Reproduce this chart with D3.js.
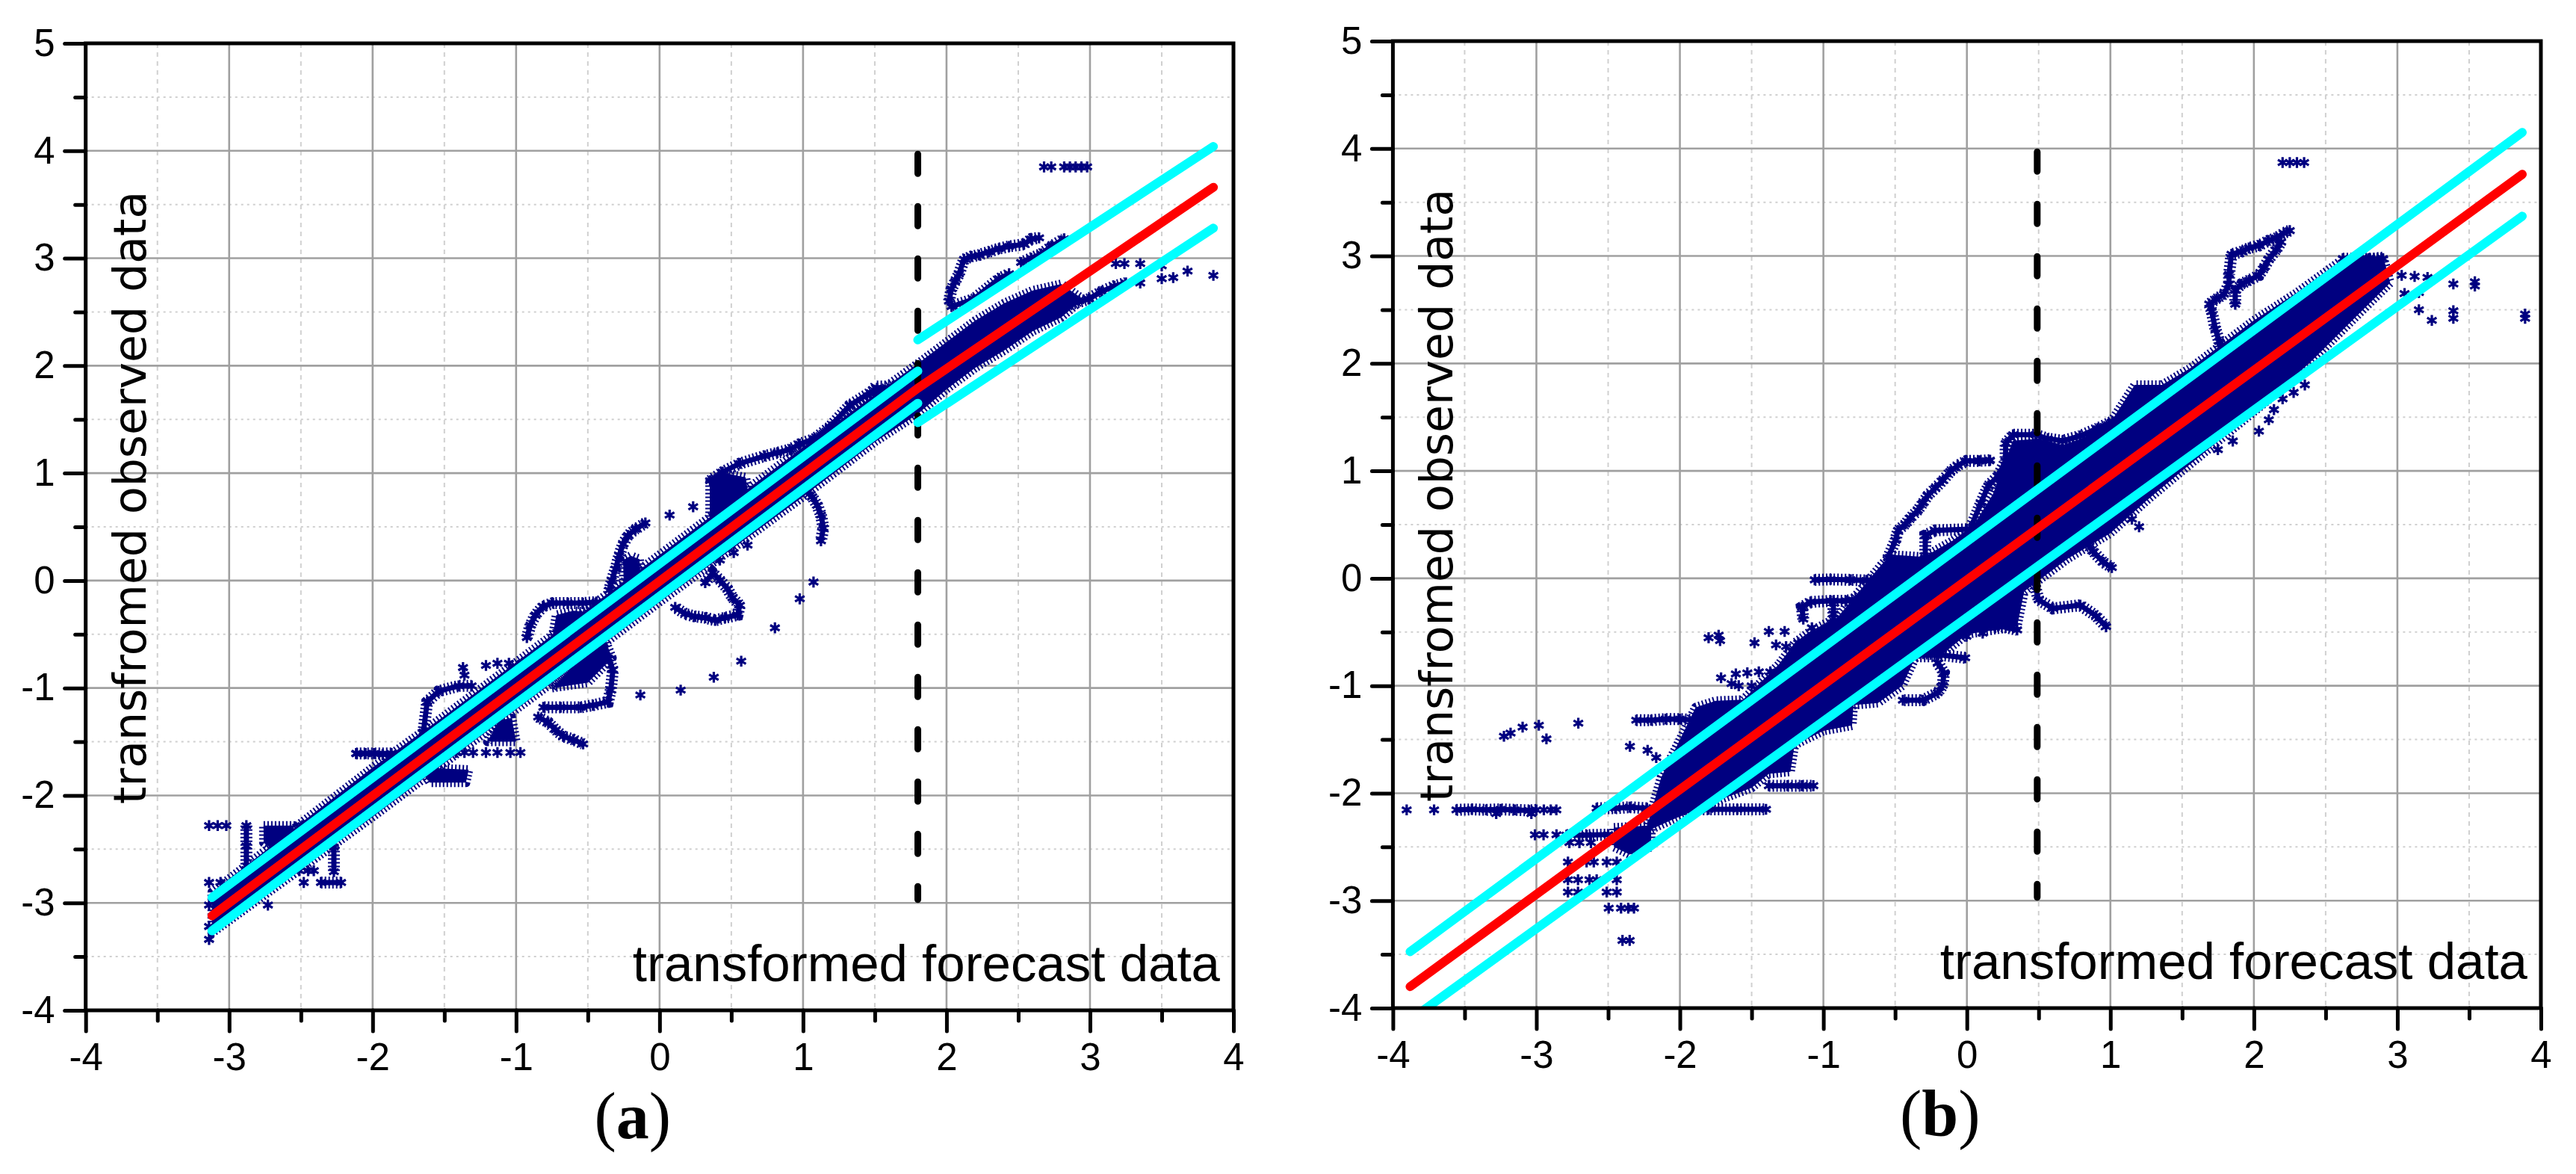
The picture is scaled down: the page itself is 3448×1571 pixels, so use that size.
<!DOCTYPE html>
<html>
<head>
<meta charset="utf-8">
<script src="https://cdn.jsdelivr.net/npm/d3@7"></script>
<style>
  html, body { margin: 0; padding: 0; background: #fff; }
  svg { display: block; }
</style>
</head>
<body>
<svg id="chart" width="3448" height="1571"></svg>
<script>
// axis ticks (same for both panels)
const xTicks = [-4, -3, -2, -1, 0, 1, 2, 3, 4];
const yTicks = [-4, -3, -2, -1, 0, 1, 2, 3, 4, 5];
const xMinor = [-3.5, -2.5, -1.5, -0.5, 0.5, 1.5, 2.5, 3.5];
const yMinor = [-3.5, -2.5, -1.5, -0.5, 0.5, 1.5, 2.5, 3.5, 4.5];

// ---------- panel (a) ----------
const splitA = 1.8;
const redA = [[-3.12, -3.12], [1.8, 1.79], [3.86, 3.66]];
const cyanA = [
  [[-3.12, -2.95], [1.8, 1.95]],
  [[1.8, 2.24], [3.86, 4.04]],
  [[-3.12, -3.26], [1.8, 1.65]],
  [[1.8, 1.47], [3.86, 3.28]]
];
// dense cloud outline
const coreA = [
  [-3.12, -2.90], [-2.6, -2.36], [-2.0, -1.74], [-1.5, -1.26], [-1.0, -0.76], [-0.5, -0.26],
  [0.0, 0.24], [0.5, 0.74], [1.0, 1.24], [1.5, 1.73], [1.8, 2.02], [2.0, 2.22], [2.2, 2.42],
  [2.4, 2.58], [2.6, 2.70], [2.8, 2.76], [2.95, 2.62],
  [2.8, 2.45], [2.6, 2.32], [2.4, 2.14], [2.2, 1.98], [2.0, 1.78], [1.8, 1.55], [1.5, 1.29],
  [1.0, 0.78], [0.5, 0.29], [0.0, -0.2], [-0.5, -0.7], [-1.0, -1.2], [-1.5, -1.7], [-2.0, -2.2],
  [-2.6, -2.78], [-3.12, -3.28]
];
const blobsA = [
  [[-2.76, -2.28], [-2.55, -2.28], [-2.55, -2.45], [-2.68, -2.52], [-2.76, -2.44]],
  [[-1.66, -1.74], [-1.33, -1.76], [-1.35, -1.88], [-1.6, -1.88]],
  [[-1.2, -1.5], [-1.0, -1.5], [-1.03, -1.28], [-1.12, -1.3]],
  [[0.35, 0.92], [0.35, 0.58], [0.45, 0.62], [0.62, 0.80], [0.6, 0.96], [0.45, 1.0]],
  [[-0.255, 0.19], [-0.2, 0.23], [-0.14, 0.2], [-0.13, 0.0], [-0.25, -0.02]],
  [[-0.75, -0.55], [-0.72, -0.32], [-0.6, -0.28], [-0.45, -0.30], [-0.42, -0.45]],
  [[-0.75, -1.0], [-0.5, -0.95], [-0.33, -0.72], [-0.38, -0.55], [-0.55, -0.72]],
  [[1.45, 1.72], [1.5, 1.82], [1.62, 1.82], [1.65, 1.75]]
];
// chains of closely packed points
const strandsA = [
  [[-1.646, -1.41], [-1.62, -1.13], [-1.54, -1.03], [-1.40, -0.98], [-1.31, -0.98]],
  [[0.352, 0.93], [0.439, 1.01], [0.561, 1.09], [0.734, 1.16], [0.821, 1.19], [0.908, 1.22], [0.977, 1.27], [1.08, 1.32], [1.186, 1.43], [1.325, 1.63], [1.516, 1.79]],
  [[-0.099, 0.536], [-0.168, 0.478], [-0.22, 0.42], [-0.255, 0.339], [-0.281, 0.234], [-0.307, 0.107], [-0.333, 0.002], [-0.351, -0.09]],
  [[-0.925, -0.53], [-0.9, -0.415], [-0.865, -0.32], [-0.813, -0.24], [-0.743, -0.21], [-0.639, -0.21], [-0.535, -0.21], [-0.44, -0.20]],
  [[-0.36, -0.72], [-0.325, -0.83], [-0.34, -1.02], [-0.36, -1.13], [-0.465, -1.16], [-0.55, -1.18], [-0.69, -1.18], [-0.81, -1.18]],
  [[-0.846, -1.27], [-0.776, -1.32], [-0.724, -1.39], [-0.672, -1.45], [-0.602, -1.48], [-0.533, -1.52]],
  [[0.318, -0.02], [0.37, 0.072], [0.422, 0.002], [0.474, -0.079], [0.508, -0.16], [0.56, -0.23], [0.543, -0.32], [0.456, -0.346], [0.387, -0.37], [0.318, -0.346], [0.248, -0.334], [0.179, -0.31], [0.109, -0.25]],
  [[0.995, 0.86], [1.064, 0.78], [1.099, 0.70], [1.125, 0.61], [1.142, 0.49], [1.125, 0.37]],
  [[2.017, 2.60], [2.035, 2.715], [2.061, 2.785], [2.087, 2.854], [2.122, 2.99], [2.174, 3.016], [2.226, 3.03], [2.296, 3.06], [2.366, 3.09], [2.436, 3.11], [2.54, 3.13], [2.592, 3.18], [2.645, 3.19]],
  [[2.52, 2.96], [2.59, 3.0], [2.66, 3.04], [2.73, 3.11], [2.82, 3.18]],
  [[2.035, 2.55], [2.19, 2.62], [2.366, 2.81], [2.436, 2.855]],
  [[2.73, 2.60], [2.85, 2.565], [2.99, 2.62], [3.08, 2.69], [3.17, 2.74], [3.25, 2.77]],
  [[-2.88, -2.28], [-2.88, -2.47], [-2.88, -2.69]],
  [[-2.27, -2.48], [-2.27, -2.71]],
  [[-2.115, -1.61], [-1.87, -1.61]],
  [[-2.36, -2.81], [-2.22, -2.81]]
];
const starsA = [
  [-3.14, -2.28], [-3.08, -2.28], [-3.02, -2.28], [-2.49, -2.28],
  [-3.14, -2.81], [-3.06, -2.81], [-2.88, -2.81], [-2.48, -2.81],
  [-3.14, -3.02], [-2.73, -3.02], [-3.14, -3.22], [-3.14, -3.34],
  [-2.51, -2.70], [-2.45, -2.70], [-2.41, -2.70],
  [-1.37, -0.81], [-1.36, -0.88], [-1.21, -0.79], [-1.13, -0.77], [-1.05, -0.77], [-0.96, -0.77],
  [-2.11, -1.61], [-2.05, -1.61], [-1.99, -1.61], [-1.93, -1.62], [-1.87, -1.61],
  [-1.42, -1.60], [-1.36, -1.60], [-1.30, -1.60], [-1.21, -1.60], [-1.13, -1.60], [-1.04, -1.60], [-0.97, -1.60],
  [0.07, 0.61], [0.234, 0.687],
  [-0.134, -1.065], [0.147, -1.02], [0.378, -0.90], [0.569, -0.75], [0.804, -0.44], [0.977, -0.17], [1.073, -0.014],
  [0.42, 0.19], [0.517, 0.26], [0.613, 0.33],
  [2.68, 3.85], [2.73, 3.85], [2.82, 3.85], [2.86, 3.85], [2.90, 3.85], [2.94, 3.85], [2.98, 3.85],
  [3.18, 2.95], [3.24, 2.95], [3.35, 2.95], [3.5, 2.93], [3.5, 2.81], [3.58, 2.82], [3.68, 2.88], [3.86, 2.84], [3.35, 2.77],
  [2.82, 3.18], [2.73, 3.11]
];

// ---------- panel (b) ----------
const splitB = 0.49;
const redB = [[-3.88, -3.80], [3.87, 3.76]];
const cyanB = [
  [[-3.88, -3.475], [3.87, 4.15]],
  [[-3.88, -4.11], [3.87, 3.37]]
];
const coreB = [
  [-2.24, -2.36], [-2.13, -1.85], [-2.01, -1.53], [-1.89, -1.2], [-1.75, -1.14], [-1.56, -1.13],
  [-1.31, -0.80], [-1.2, -0.6], [-1.1, -0.5], [-0.9, -0.36], [-0.8, -0.2], [-0.6, 0.12], [-0.53, 0.22],
  [-0.3, 0.2], [-0.1, 0.35], [0.05, 0.5], [0.18, 0.78], [0.27, 1.1], [0.32, 1.28], [0.5, 1.3],
  [0.67, 1.24], [0.8, 1.3], [1.0, 1.45], [1.17, 1.8], [1.36, 1.8], [1.55, 1.95], [1.8, 2.2],
  [2.0, 2.4], [2.3, 2.66], [2.6, 2.95], [2.9, 3.0],
  [2.95, 2.75], [2.7, 2.42], [2.4, 2.02], [2.1, 1.66], [1.8, 1.33], [1.5, 1.0], [1.25, 0.72],
  [1.0, 0.42], [0.7, 0.18], [0.4, -0.12], [0.35, -0.45], [0.0, -0.52], [-0.2, -0.74], [-0.36, -0.74],
  [-0.45, -1.0], [-0.62, -1.16], [-0.79, -1.18], [-0.8, -1.37], [-1.0, -1.42], [-1.2, -1.55],
  [-1.23, -1.8], [-1.38, -1.82], [-1.5, -1.95], [-1.7, -2.05], [-2.06, -2.25]
];
const blobsB = [
  [[-2.46, -2.32], [-2.2, -2.3], [-2.2, -2.5], [-2.35, -2.57], [-2.46, -2.5]]
];
const strandsB = [
  [[-0.55, 0.19], [-0.498, 0.353], [-0.48, 0.446], [-0.429, 0.505], [-0.394, 0.563], [-0.342, 0.633], [-0.307, 0.70], [-0.273, 0.77], [-0.22, 0.84], [-0.168, 0.91], [-0.116, 0.993], [-0.064, 1.05], [-0.003, 1.093], [0.083, 1.093], [0.161, 1.10]],
  [[-1.06, -0.014], [-0.95, -0.01], [-0.81, -0.014], [-0.7, -0.02], [-0.62, -0.014]],
  [[-1.14, -0.38], [-1.15, -0.27], [-1.09, -0.22], [-0.95, -0.21], [-0.84, -0.21], [-0.74, -0.18]],
  [[-0.93, -0.21], [-0.93, -0.33], [-0.93, -0.42], [-0.98, -0.51]],
  [[-0.29, 0.19], [-0.29, 0.40], [-0.22, 0.446], [0.023, 0.458], [0.097, 0.70], [0.149, 0.86], [0.218, 0.953], [0.27, 1.093], [0.27, 1.255], [0.322, 1.336], [0.477, 1.336], [0.564, 1.30], [0.668, 1.28], [0.789, 1.325], [0.91, 1.394], [1.014, 1.46]],
  [[1.775, 2.09], [1.758, 2.205], [1.732, 2.32], [1.706, 2.483], [1.689, 2.553], [1.74, 2.6], [1.792, 2.645], [1.827, 2.738], [1.827, 2.83], [1.844, 3.016], [1.913, 3.04], [1.965, 3.074], [2.035, 3.097], [2.104, 3.144], [2.156, 3.167], [2.208, 3.213], [2.25, 3.236]],
  [[1.87, 2.55], [1.87, 2.68], [1.913, 2.738], [1.965, 2.773], [2.035, 2.82], [2.07, 2.889], [2.104, 2.97], [2.156, 3.06], [2.19, 3.13]],
  [[2.467, 2.68], [2.55, 2.68], [2.64, 2.68]],
  [[-3.557, -2.155], [-3.45, -2.15], [-3.35, -2.155], [-3.25, -2.15], [-3.15, -2.155], [-3.05, -2.16], [-3.0, -2.155]],
  [[-2.79, -2.39], [-2.65, -2.39], [-2.5, -2.385]],
  [[-2.304, -1.32], [-2.2, -1.32], [-2.1, -1.31], [-2.0, -1.31], [-1.887, -1.32]],
  [[-2.58, -2.14], [-2.45, -2.14], [-2.35, -2.13], [-2.23, -2.14]],
  [[-1.97, -2.15], [-1.8, -2.15], [-1.6, -2.15], [-1.4, -2.15]],
  [[-1.38, -1.93], [-1.25, -1.93], [-1.15, -1.93], [-1.07, -1.93]],
  [[-0.203, -0.786], [-0.16, -0.879], [-0.168, -0.995], [-0.203, -1.065], [-0.307, -1.135], [-0.446, -1.135]],
  [[-0.36, -0.69], [-0.2, -0.71], [-0.012, -0.74]],
  [[-0.01, -0.37], [0.15, -0.42], [0.35, -0.48]],
  [[0.3, 0.2], [0.45, 0.05], [0.5, -0.2], [0.6, -0.28], [0.79, -0.25], [0.9, -0.35], [0.97, -0.45]],
  [[0.82, 0.35], [0.88, 0.25], [0.95, 0.15], [1.01, 0.1]],
  [[2.62, 2.975], [2.9, 2.975]]
];
const starsB = [
  [-3.904, -2.155], [-3.713, -2.155], [-2.948, -2.155], [-2.90, -2.155], [-2.861, -2.155], [-3.28, -2.19], [-3.035, -2.19],
  [-3.01, -2.387], [-2.95, -2.387], [-2.86, -2.387],
  [-2.77, -2.46], [-2.70, -2.46], [-2.62, -2.46],
  [-2.78, -2.64], [-2.65, -2.64], [-2.60, -2.64], [-2.51, -2.64], [-2.44, -2.64],
  [-2.78, -2.805], [-2.71, -2.805], [-2.63, -2.805], [-2.58, -2.805], [-2.44, -2.805],
  [-2.78, -2.92], [-2.71, -2.92], [-2.51, -2.92], [-2.44, -2.92],
  [-2.496, -3.07], [-2.41, -3.07], [-2.36, -3.07], [-2.32, -3.07], [-2.40, -3.37], [-2.35, -3.37],
  [-3.226, -1.47], [-3.18, -1.44], [-3.096, -1.385], [-2.983, -1.367], [-2.93, -1.494], [-2.708, -1.348],
  [-2.348, -1.564], [-2.225, -1.60], [-2.165, -1.668],
  [-1.713, -0.926], [-1.61, -0.89], [-1.53, -0.88], [-1.45, -0.87], [-1.37, -0.87], [-1.28, -0.86],
  [-1.64, -0.98], [-1.59, -1.0], [-1.5, -1.0], [-1.41, -0.995],
  [-1.8, -0.553], [-1.73, -0.53], [-1.72, -0.58], [-1.48, -0.6], [-1.38, -0.495], [-1.27, -0.495],
  [-1.33, -0.62], [-1.26, -0.635], [-1.175, -0.6], [-1.08, -0.46], [-0.976, -0.46],
  [-0.003, -0.54], [0.11, -0.51], [0.196, -0.46], [0.283, -0.437],
  [2.355, 1.80], [2.277, 1.73], [2.2, 1.67], [2.14, 1.57], [2.104, 1.475], [2.035, 1.37], [1.853, 1.278], [1.749, 1.197],
  [0.088, 1.093], [0.157, 1.093],
  [1.0, 0.72], [1.08, 0.62], [1.15, 0.55], [1.2, 0.48], [0.98, 0.55], [0.9, 0.42],
  [2.2, 3.87], [2.25, 3.87], [2.3, 3.87], [2.35, 3.87],
  [2.7, 2.975], [2.8, 2.975], [3.03, 2.82], [3.12, 2.81], [3.21, 2.80], [3.39, 2.74], [3.54, 2.76], [3.54, 2.72],
  [3.39, 2.49], [3.39, 2.42], [3.15, 2.5], [3.24, 2.4], [3.89, 2.46], [3.89, 2.42], [3.05, 2.65], [3.15, 2.66]
];

const NAVY = "#000080";
const svg = d3.select("#chart");
svg.append("rect").attr("width", 3448).attr("height", 1571).attr("fill", "#fff");
const defs = svg.append("defs");

const panels = [
  { id: "a", box: { left: 114.7, right: 1651, top: 58, bottom: 1352 },
    core: coreA, blobs: blobsA, strands: strandsA, stars: starsA, red: redA, cyan: cyanA, split: splitA },
  { id: "b", box: { left: 1864.4, right: 3401, top: 55, bottom: 1349 },
    core: coreB, blobs: blobsB, strands: strandsB, stars: starsB, red: redB, cyan: cyanB, split: splitB }
];

const star = d3.symbol().type(d3.symbolAsterisk).size(150);

function drawPanel(p) {
  const b = p.box;
  const x = d3.scaleLinear().domain([-4, 4]).range([b.left, b.right]);
  const y = d3.scaleLinear().domain([-4, 5]).range([b.bottom, b.top]);
  const g = svg.append("g").attr("id", "panel-" + p.id);

  defs.append("clipPath").attr("id", "clip-" + p.id)
    .append("rect")
    .attr("x", b.left).attr("y", b.top)
    .attr("width", b.right - b.left).attr("height", b.bottom - b.top);

  // grid
  const grid = g.append("g");
  grid.selectAll(".vminor").data(xMinor).join("line")
    .attr("x1", x).attr("x2", x).attr("y1", b.top).attr("y2", b.bottom)
    .attr("stroke", "#d0d0d0").attr("stroke-width", 2).attr("stroke-dasharray", "6 6");
  grid.selectAll(".hminor").data(yMinor).join("line")
    .attr("y1", y).attr("y2", y).attr("x1", b.left).attr("x2", b.right)
    .attr("stroke", "#d0d0d0").attr("stroke-width", 2).attr("stroke-dasharray", "3 5");
  grid.selectAll(".vmajor").data(xTicks.slice(1, -1)).join("line")
    .attr("x1", x).attr("x2", x).attr("y1", b.top).attr("y2", b.bottom)
    .attr("stroke", "#a0a0a0").attr("stroke-width", 2.6);
  grid.selectAll(".hmajor").data(yTicks.slice(1, -1)).join("line")
    .attr("y1", y).attr("y2", y).attr("x1", b.left).attr("x2", b.right)
    .attr("stroke", "#a0a0a0").attr("stroke-width", 2.6);

  const layer = g.append("g").attr("clip-path", `url(#clip-${p.id})`);
  const line = d3.line().x(d => x(d[0])).y(d => y(d[1]));
  const closed = d3.line().x(d => x(d[0])).y(d => y(d[1])).curve(d3.curveLinearClosed);

  // dense part of the cloud
  layer.selectAll(".cloud").data([p.core, ...p.blobs]).join("path")
    .attr("d", closed)
    .attr("fill", NAVY).attr("stroke", NAVY)
    .attr("stroke-width", 12).attr("stroke-dasharray", "2 3")
    .attr("stroke-linejoin", "round");

  // chains of markers
  layer.selectAll(".strand").data(p.strands).join("path")
    .attr("d", line).attr("fill", "none").attr("stroke", NAVY)
    .attr("stroke-width", 7).attr("stroke-linejoin", "round").attr("stroke-linecap", "round");
  layer.selectAll(".strand-fuzz").data(p.strands).join("path")
    .attr("d", line).attr("fill", "none").attr("stroke", NAVY)
    .attr("stroke-width", 16).attr("stroke-dasharray", "2 3");

  // single markers
  layer.selectAll(".star").data([...p.stars, ...p.strands.flat()]).join("path")
    .attr("transform", d => `translate(${x(d[0])},${y(d[1])})`)
    .attr("d", star).attr("fill", "none").attr("stroke", NAVY).attr("stroke-width", 3.2);

  // split line
  layer.append("line")
    .attr("x1", x(p.split)).attr("x2", x(p.split))
    .attr("y1", y(4) + 4.5).attr("y2", y(-3) - 4.5)
    .attr("stroke", "#000").attr("stroke-width", 9)
    .attr("stroke-dasharray", "26 44").attr("stroke-linecap", "round");

  // fitted line and bounds
  layer.selectAll(".bound").data(p.cyan).join("path")
    .attr("d", line).attr("fill", "none").attr("stroke", "#00ffff")
    .attr("stroke-width", 12).attr("stroke-linecap", "round");
  layer.append("path").datum(p.red)
    .attr("d", line).attr("fill", "none").attr("stroke", "#ff0000")
    .attr("stroke-width", 12).attr("stroke-linecap", "round").attr("stroke-linejoin", "round");

  // frame
  g.append("rect")
    .attr("x", b.left).attr("y", b.top)
    .attr("width", b.right - b.left).attr("height", b.bottom - b.top)
    .attr("fill", "none").attr("stroke", "#000").attr("stroke-width", 5);

  const styleAxis = sel => {
    sel.select(".domain").remove();
    sel.selectAll(".tick line").attr("stroke", "#000").attr("stroke-width", 5).attr("stroke-linecap", "round");
    sel.selectAll(".tick text").attr("fill", "#000");
    sel.attr("font-family", "'Liberation Sans', Arial, sans-serif").attr("font-size", 51);
  };

  g.append("g").attr("transform", `translate(0,${b.bottom})`)
    .call(d3.axisBottom(x).tickValues(xMinor).tickSize(14).tickFormat(""))
    .call(styleAxis);
  g.append("g").attr("transform", `translate(0,${b.bottom})`)
    .call(d3.axisBottom(x).tickValues(xTicks).tickSize(28).tickPadding(16).tickFormat(d => String(d)))
    .call(styleAxis);
  g.append("g").attr("transform", `translate(${b.left},0)`)
    .call(d3.axisLeft(y).tickValues(yMinor).tickSize(14).tickFormat(""))
    .call(styleAxis);
  g.append("g").attr("transform", `translate(${b.left},0)`)
    .call(d3.axisLeft(y).tickValues(yTicks).tickSize(28).tickPadding(13).tickFormat(d => String(d)))
    .call(styleAxis);

  // titles inside the plot
  g.append("text")
    .attr("transform", `translate(${b.left + 80},${b.bottom - 276}) rotate(-90)`)
    .attr("font-family", "'DejaVu Sans', Verdana, sans-serif").attr("font-size", 60)
    .attr("fill", "#000")
    .text("transfromed observed data");
  g.append("text")
    .attr("x", b.right - 18).attr("y", b.bottom - 39)
    .attr("text-anchor", "end")
    .attr("font-family", "'Liberation Sans', Arial, sans-serif").attr("font-size", 69)
    .attr("fill", "#000")
    .text("transformed forecast data");

  // caption
  const cap = g.append("text")
    .attr("x", (b.left + b.right) / 2 - 36).attr("y", b.bottom + 171)
    .attr("text-anchor", "middle")
    .attr("font-family", "'Liberation Serif', 'Times New Roman', serif").attr("font-size", 88)
    .attr("font-weight", "normal")
    .attr("fill", "#000");
  cap.append("tspan").text("(");
  cap.append("tspan").attr("font-weight", "bold").text(p.id);
  cap.append("tspan").text(")");
}

panels.forEach(drawPanel);
</script>
</body>
</html>
